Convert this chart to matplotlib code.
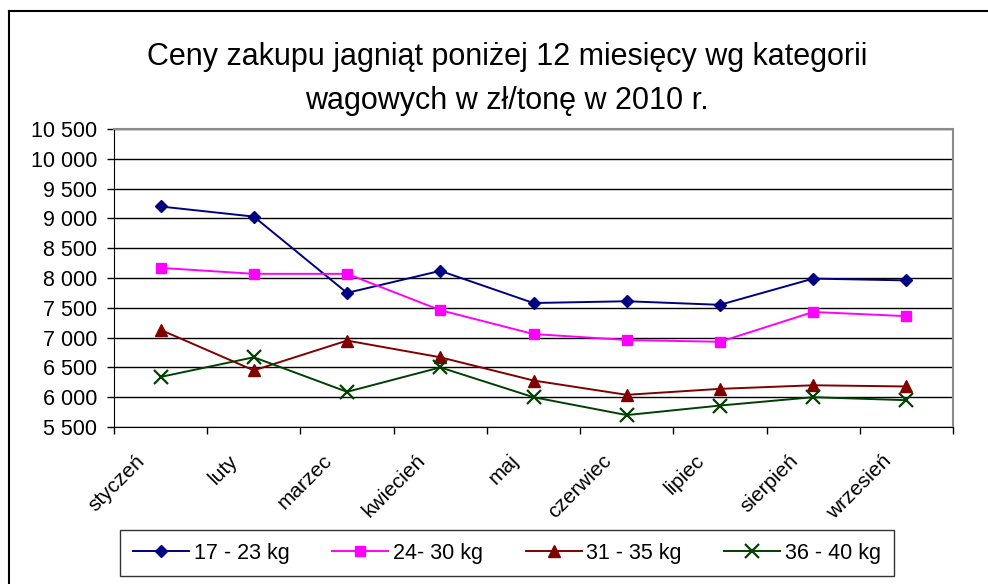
import matplotlib
matplotlib.use("Agg")
import matplotlib.pyplot as plt
import matplotlib.transforms as mtransforms
from matplotlib.lines import Line2D
from matplotlib.ticker import FuncFormatter, MultipleLocator

plt.rcParams['font.family'] = ['Liberation Sans', 'DejaVu Sans']

months = ["styczeń", "luty", "marzec", "kwiecień", "maj", "czerwiec", "lipiec", "sierpień", "wrzesień"]
s17_23 = [9200, 9030, 7750, 8120, 7580, 7610, 7550, 7990, 7960]
s24_30 = [8170, 8070, 8070, 7460, 7060, 6960, 6930, 7430, 7360]
s31_35 = [7130, 6450, 6950, 6670, 6280, 6040, 6140, 6200, 6180]
s36_40 = [6340, 6670, 6090, 6500, 6000, 5700, 5860, 6000, 5950]
series_labels = ["17 - 23 kg", "24- 30 kg", "31 - 35 kg", "36 - 40 kg"]
title_text = "Ceny zakupu jagniąt poniżej 12 miesięcy wg kategorii\nwagowych w zł/tonę w 2010 r."

W, H = 988, 584
fig = plt.figure(figsize=(W / 100, H / 100), dpi=100)
ax = fig.add_axes([114 / W, 1 - 427 / H, (953 - 114) / W, (427 - 129) / H])

x = list(range(len(months)))
styles = [
    dict(color="#000080", marker="D", ms=6.5),
    dict(color="#FF00FF", marker="s", ms=7.5),
    dict(color="#800000", marker="^", ms=8.5),
    dict(color="#004000", marker="x", ms=10, mew=1.6),
]
handles = []
for data, st, lab in zip([s17_23, s24_30, s31_35, s36_40], styles, series_labels):
    h, = ax.plot(x, data, lw=1.4, label=lab, clip_on=False, **st)
    handles.append(h)

ax.set_xlim(-0.5, len(months) - 0.5)
ax.set_ylim(5500, 10500)
ax.yaxis.set_major_locator(MultipleLocator(500))
ax.yaxis.set_major_formatter(FuncFormatter(lambda v, p: f"{int(v):,}".replace(",", " ")))
ax.grid(axis="y", color="black", lw=1.0)
ax.set_axisbelow(True)

for side in ["top", "right"]:
    ax.spines[side].set_color("#8c8c8c")
    ax.spines[side].set_linewidth(1.5)
ax.spines["left"].set_color("black")
ax.spines["bottom"].set_color("black")

ax.tick_params(axis="y", length=5, width=1, labelsize=15.5, pad=7)
# x ticks at category boundaries, labels at centers
ax.set_xticks([i - 0.5 for i in range(len(months) + 1)])
ax.set_xticklabels([])
ax.tick_params(axis="x", length=5, width=1)
offset = mtransforms.ScaledTranslation(-25 / 100, -24 / 100, fig.dpi_scale_trans)
for i, m in enumerate(months):
    ax.text(i, 0, m, transform=mtransforms.blended_transform_factory(ax.transData, ax.transAxes) + offset,
            rotation=45, rotation_mode="anchor", ha="right", va="top", fontsize=15)

fig.text(507 / W, 1 - 79 / H, title_text, ha="center", va="center", fontsize=22,
         linespacing=1.58)

leg = fig.legend(handles=handles, loc="center", bbox_to_anchor=(507 / W, 1 - 553 / H),
                 ncol=4, fontsize=15.5, frameon=True, fancybox=False, edgecolor="black",
                 handlelength=2.6, handletextpad=0.2, columnspacing=2.0, borderpad=0.6,
                 borderaxespad=0)
leg.get_frame().set_linewidth(1.0)

# outer chart frame (left & top edges visible)
fig.add_artist(Line2D([9 / W, 9 / W], [0, 1 - 11 / H], transform=fig.transFigure, color="black", lw=1.5))
fig.add_artist(Line2D([9 / W, 1], [1 - 11 / H, 1 - 11 / H], transform=fig.transFigure, color="black", lw=1.5))

fig.savefig("out.png", dpi=100)
